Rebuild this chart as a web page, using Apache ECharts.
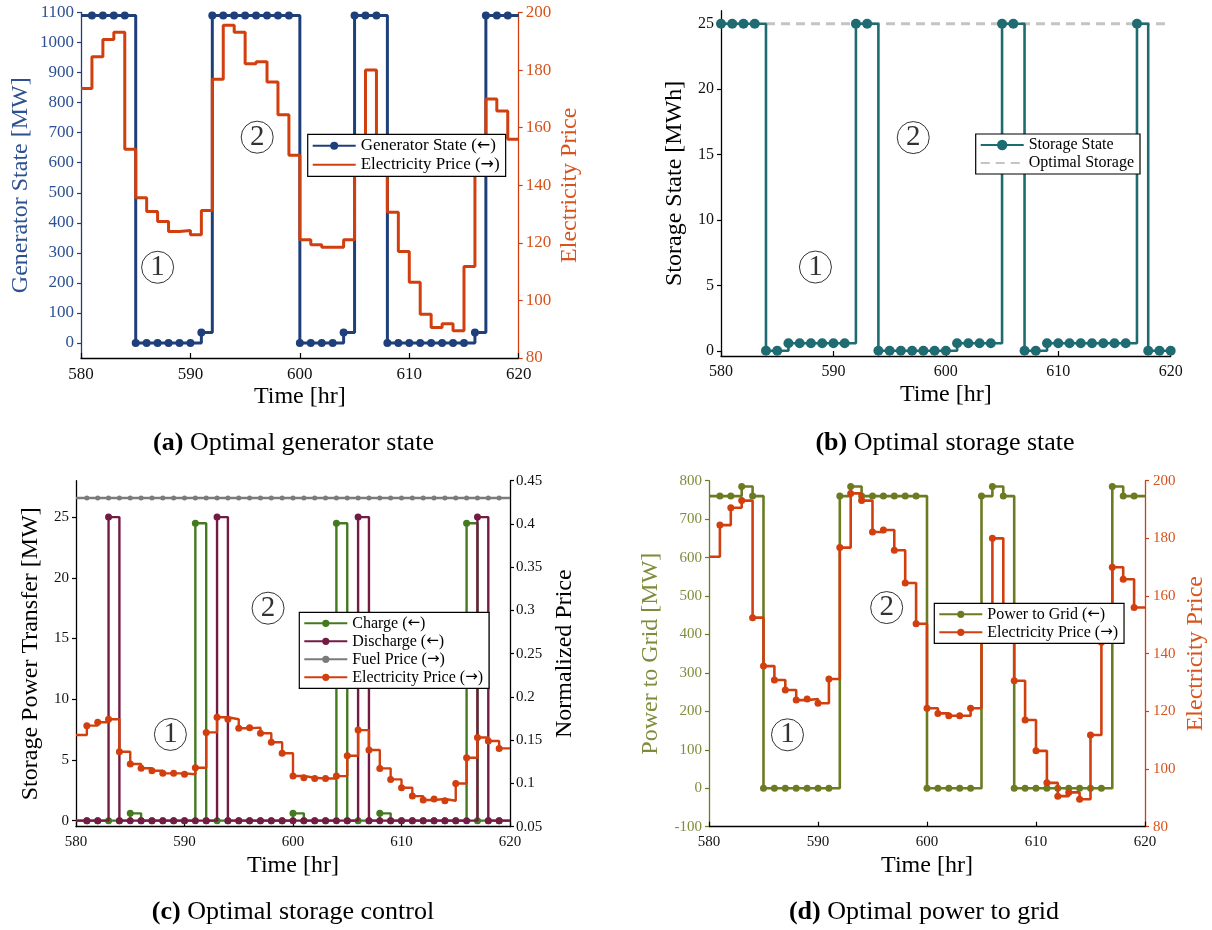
<!DOCTYPE html>
<html>
<head>
<meta charset="utf-8">
<script src="https://cdn.jsdelivr.net/npm/echarts@6/dist/echarts.min.js"></script>
<style>
  html, body { margin: 0; padding: 0; background: #fff; }
  #wrap { position: relative; width: 1212px; height: 930px; }
  .panel { position: absolute; width: 606px; height: 465px; }
</style>
</head>
<body>
<div id="wrap">
  <div id="pa" class="panel" style="left:0;top:0"></div>
  <div id="pb" class="panel" style="left:606px;top:0"></div>
  <div id="pc" class="panel" style="left:0;top:465px"></div>
  <div id="pd" class="panel" style="left:606px;top:465px"></div>
</div>
<script>
// ---- hourly data, 580 .. 620 hr ----
const hours = [580, 581, 582, 583, 584, 585, 586, 587, 588, 589,
               590, 591, 592, 593, 594, 595, 596, 597, 598, 599,
               600, 601, 602, 603, 604, 605, 606, 607, 608, 609,
               610, 611, 612, 613, 614, 615, 616, 617, 618, 619, 620];

// generator output [MW]
const generatorState = [1090, 1090, 1090, 1090, 1090, 0, 0, 0, 0, 0,
                        0, 35, 1090, 1090, 1090, 1090, 1090, 1090, 1090, 1090,
                        0, 0, 0, 0, 35, 1090, 1090, 1090, 0, 0,
                        0, 0, 0, 0, 0, 0, 35, 1090, 1090, 1090, 1090];

// electricity price
const electricityPrice = [173.6, 184.6, 190.6, 193.1, 152.5, 135.7, 130.9, 127.4, 123.9, 124.3,
                          122.8, 131.2, 176.8, 195.6, 193.1, 182.2, 182.9, 175.9, 164.5, 150.4,
                          121.1, 119.3, 118.5, 118.5, 121.1, 146.5, 180.0, 153.8, 130.6, 117.0,
                          106.3, 95.2, 90.6, 91.9, 89.5, 111.8, 144.0, 170.0, 165.8, 156.0, 156.0];

// storage state of charge [MWh]
const storageState = [25, 25, 25, 25, 0, 0, 0.57, 0.57, 0.57, 0.57,
                      0.57, 0.57, 25, 25, 0, 0, 0, 0, 0, 0,
                      0, 0.57, 0.57, 0.57, 0.57, 25, 25, 0, 0, 0.57,
                      0.57, 0.57, 0.57, 0.57, 0.57, 0.57, 0.57, 25, 0, 0, 0];
const optimalStorageHours = [580, 620];
const optimalStorageLevel = [25, 25];

// storage power transfer [MW]
const chargePower = [0, 0, 0, 0, 0, 0.6, 0, 0, 0, 0,
                     0, 24.5, 0, 0, 0, 0, 0, 0, 0, 0,
                     0.6, 0, 0, 0, 24.5, 0, 0, 0, 0.6, 0,
                     0, 0, 0, 0, 0, 0, 24.5, 0, 0, 0, 0];
const dischargePower = [0, 0, 0, 25, 0, 0, 0, 0, 0, 0,
                        0, 0, 0, 25, 0, 0, 0, 0, 0, 0,
                        0, 0, 0, 0, 0, 0, 25, 0, 0, 0,
                        0, 0, 0, 0, 0, 0, 0, 25, 0, 0, 0];

// normalized prices
const fuelPriceNorm = [0.43, 0.43, 0.43, 0.43, 0.43, 0.43, 0.43, 0.43, 0.43, 0.43,
                       0.43, 0.43, 0.43, 0.43, 0.43, 0.43, 0.43, 0.43, 0.43, 0.43,
                       0.43, 0.43, 0.43, 0.43, 0.43, 0.43, 0.43, 0.43, 0.43, 0.43,
                       0.43, 0.43, 0.43, 0.43, 0.43, 0.43, 0.43, 0.43, 0.43, 0.43, 0.43];
const electricityPriceNorm = [0.156, 0.1668, 0.1707, 0.1742, 0.1367, 0.1225, 0.1175, 0.1147, 0.1117, 0.1117,
                              0.1106, 0.1182, 0.159, 0.1765, 0.1742, 0.1638, 0.1645, 0.158, 0.1476, 0.1349,
                              0.1086, 0.1066, 0.1058, 0.1058, 0.1085, 0.132, 0.1617, 0.1386, 0.1174, 0.1047,
                              0.095, 0.0854, 0.0808, 0.082, 0.080, 0.100, 0.1297, 0.1532, 0.149, 0.1405, 0.1405];

// power delivered to grid [MW]
const powerToGrid = [760, 760, 760, 785, 760, 0, 0, 0, 0, 0,
                     0, 0, 760, 785, 760, 760, 760, 760, 760, 760,
                     0, 0, 0, 0, 0, 760, 785, 760, 0, 0,
                     0, 0, 0, 0, 0, 0, 0, 785, 760, 760, 760];

// ---- tick labels ----
const timeTicks = [580, 590, 600, 610, 620];
const generatorTicks = [0, 100, 200, 300, 400, 500, 600, 700, 800, 900, 1000, 1100];
const priceTicks = [80, 100, 120, 140, 160, 180, 200];
const storageTicks = [0, 5, 10, 15, 20, 25];
const transferTicks = [0, 5, 10, 15, 20, 25];
const normPriceTicks = [0.05, 0.1, 0.15, 0.2, 0.25, 0.3, 0.35, 0.4, 0.45];
const gridTicks = [-100, 0, 100, 200, 300, 400, 500, 600, 700, 800];

// ---- operating-region markers (hour, left-axis value, label) ----
const regionsA = [[587.0, 252, '1'], [596.1, 685, '2']];
const regionsB = [[588.4, 6.4, '1'], [597.1, 16.3, '2']];
const regionsC = [[588.7, 7.1, '1'], [597.7, 17.5, '2']];
const regionsD = [[587.2, 139, '1'], [596.3, 470, '2']];

// ---- styling ----
const SERIF = "'Liberation Serif', 'DejaVu Serif', serif";
const BLUE = '#1f3f7b', BLUE_TXT = '#2d5190';
const RED = '#d23f0e', RED_TXT = '#d9531c';
const TEAL = '#1e6b72';
const GREEN = '#447a1f', PURPLE = '#721c45', GREY = '#7b7b7b';
const OLIVE = '#6b7b22', OLIVE_TXT = '#7f8c3b';
const OPT_GREY = '#c4c4c4';

function stepData(ys, hideEnds) {
  return hours.map((h, i) => {
    const item = { value: [h, ys[i]] };
    if (hideEnds && (i === 0 || i === hours.length - 1)) item.symbol = 'none';
    return item;
  });
}

function stepLine(name, ys, color, o) {
  return {
    type: 'line', name, step: 'end',
    data: stepData(ys, o.hideEnds),
    yAxisIndex: o.yAxisIndex || 0,
    symbol: o.symbolSize ? 'circle' : 'none',
    symbolSize: o.symbolSize || 0,
    showAllSymbol: true,
    lineStyle: { color, width: o.width },
    itemStyle: { color },
    z: o.z || 2,
    animation: false
  };
}

function regionMarks(points) {
  return {
    type: 'scatter', silent: true, z: 20,
    symbol: 'circle', symbolSize: 32,
    itemStyle: { color: 'rgba(255,255,255,0)', borderColor: '#000', borderWidth: 1 },
    label: { show: true, position: 'inside', formatter: '{b}',
             fontFamily: SERIF, fontSize: 29, color: '#000' },
    data: points.map(p => ({ value: [p[0], p[1]], name: p[2] })),
    animation: false
  };
}

const plainNumber = v => String(+(+v).toFixed(2));

function timeAxis(fontSize) {
  return {
    type: 'value', min: 580, max: 620,
    name: 'Time [hr]', nameLocation: 'middle', nameGap: 27, nameMoveOverlap: false,
    nameTextStyle: { fontFamily: SERIF, fontSize: 24, color: '#000' },
    axisLine: { show: true, onZero: false, lineStyle: { color: '#000', width: 1.3 } },
    axisTick: { show: true, inside: true, length: 5, customValues: timeTicks,
                lineStyle: { color: '#000', width: 1.2 } },
    axisLabel: { fontFamily: SERIF, fontSize, color: '#111', margin: 8, customValues: timeTicks,
                 formatter: plainNumber },
    splitLine: { show: false }
  };
}

function valueAxis(o) {
  return {
    type: 'value', min: o.min, max: o.max, position: o.position || 'left',
    name: o.name, nameLocation: 'middle', nameGap: o.nameGap, nameMoveOverlap: false,
    nameTextStyle: { fontFamily: SERIF, fontSize: 24, color: o.nameColor || '#000' },
    axisLine: { show: true, onZero: false, lineStyle: { color: o.lineColor || '#000', width: 1.3 } },
    axisTick: { show: true, inside: false, length: 4, customValues: o.ticks,
                lineStyle: { color: o.lineColor || '#000', width: 1.2 } },
    axisLabel: { fontFamily: SERIF, fontSize: o.fontSize, color: o.labelColor || '#111',
                 margin: o.margin || 7, customValues: o.ticks, formatter: plainNumber },
    splitLine: { show: false }
  };
}

// legend entries carry direction arrows (← left axis, → right axis)
function legendBox(o) {
  return {
    data: o.data, orient: 'vertical', left: o.left, top: o.top,
    backgroundColor: '#fff', borderColor: '#000', borderWidth: 1.2, borderRadius: 0,
    padding: o.padding || [3, 6, 3, 4], itemGap: o.itemGap || 2,
    itemWidth: 43, itemHeight: o.itemHeight,
    formatter: name => name.replace(/([←→])/, '{ar|$1}'),
    textStyle: {
      fontFamily: SERIF, fontSize: o.fontSize, color: '#000',
      rich: { ar: { fontFamily: "'DejaVu Sans', sans-serif", fontSize: o.fontSize - 1, color: '#000' } }
    },
    selectedMode: false
  };
}

function caption(x, y, tag, text) {
  return {
    type: 'text', silent: true,
    style: {
      x, y, text: '{b|' + tag + '} ' + text,
      align: 'center', verticalAlign: 'middle',
      fontFamily: SERIF, fontSize: 26, fill: '#000',
      rich: { b: { fontFamily: SERIF, fontSize: 26, fontWeight: 'bold', fill: '#000' } }
    }
  };
}

const noMarker = { opacity: 0, color: 'rgba(0,0,0,0)', borderWidth: 0 };
const gridBase = { outerBoundsMode: 'none', containLabel: false };

// (a) generator state vs electricity price
const chartA = echarts.init(document.getElementById('pa'), null, { renderer: 'canvas' });
chartA.setOption({
  animation: false,
  grid: Object.assign({ left: 81, top: 12.5, width: 437.7, height: 345.5 }, gridBase),
  xAxis: timeAxis(17),
  yAxis: [
    valueAxis({ min: -50, max: 1100, ticks: generatorTicks, name: 'Generator State [MW]', nameGap: 48,
                nameColor: BLUE_TXT, lineColor: BLUE, labelColor: BLUE_TXT, fontSize: 17 }),
    valueAxis({ min: 80, max: 200, ticks: priceTicks, position: 'right', name: 'Electricity Price', nameGap: 39,
                nameColor: RED_TXT, lineColor: RED, labelColor: RED_TXT, fontSize: 17 })
  ],
  legend: legendBox({
    left: 307.7, top: 134.3, itemHeight: 10, fontSize: 17,
    data: ['Generator State (←)', { name: 'Electricity Price (→)', itemStyle: noMarker }]
  }),
  series: [
    stepLine('Generator State (←)', generatorState, BLUE, { symbolSize: 8, width: 3, hideEnds: true }),
    stepLine('Electricity Price (→)', electricityPrice, RED, { width: 3, yAxisIndex: 1, z: 3 }),
    regionMarks(regionsA)
  ],
  graphic: [caption(293.5, 443, '(a)', 'Optimal generator state')]
});

// (b) storage state of charge
const chartB = echarts.init(document.getElementById('pb'), null, { renderer: 'canvas' });
chartB.setOption({
  animation: false,
  grid: Object.assign({ left: 115, top: 10.7, width: 449.7, height: 345.3 }, gridBase),
  xAxis: timeAxis(16),
  yAxis: valueAxis({ min: -0.4, max: 26, ticks: storageTicks, name: 'Storage State [MWh]', nameGap: 34, fontSize: 16 }),
  legend: legendBox({
    left: 369.7, top: 134, itemHeight: 13, fontSize: 16,
    data: ['Storage State', { name: 'Optimal Storage', itemStyle: noMarker }]
  }),
  series: [
    {
      type: 'line', name: 'Optimal Storage', yAxisIndex: 0, symbol: 'none',
      data: optimalStorageHours.map((h, i) => [h, optimalStorageLevel[i]]),
      lineStyle: { color: OPT_GREY, width: 3, type: [9, 6] },
      itemStyle: { color: OPT_GREY }, z: 1, animation: false
    },
    stepLine('Storage State', storageState, TEAL, { symbolSize: 10, width: 2.6, z: 3 }),
    regionMarks(regionsB)
  ],
  graphic: [caption(339, 443, '(b)', 'Optimal storage state')]
});

// (c) storage charge / discharge with normalized prices
const chartC = echarts.init(document.getElementById('pc'), null, { renderer: 'canvas' });
chartC.setOption({
  animation: false,
  grid: Object.assign({ left: 76, top: 15.7, width: 434, height: 346 }, gridBase),
  xAxis: timeAxis(15),
  yAxis: [
    valueAxis({ min: -0.5, max: 28, ticks: transferTicks, name: 'Storage Power Transfer [MW]', nameGap: 33, fontSize: 15 }),
    valueAxis({ min: 0.05, max: 0.45, ticks: normPriceTicks, position: 'right', name: 'Normalized Price', nameGap: 43,
                fontSize: 15, margin: 6 })
  ],
  legend: legendBox({
    left: 299.3, top: 147.3, itemHeight: 9, fontSize: 16,
    data: ['Charge (←)', 'Discharge (←)', 'Fuel Price (→)', 'Electricity Price (→)']
  }),
  series: [
    stepLine('Charge (←)', chargePower, GREEN, { symbolSize: 7, width: 2.4, hideEnds: true, z: 2 }),
    stepLine('Discharge (←)', dischargePower, PURPLE, { symbolSize: 7, width: 2.4, hideEnds: true, z: 3 }),
    stepLine('Fuel Price (→)', fuelPriceNorm, GREY, { symbolSize: 5, width: 2.6, hideEnds: true, yAxisIndex: 1, z: 2 }),
    stepLine('Electricity Price (→)', electricityPriceNorm, RED, { symbolSize: 7, width: 2.4, hideEnds: true, yAxisIndex: 1, z: 4 }),
    regionMarks(regionsC)
  ],
  graphic: [caption(293, 447, '(c)', 'Optimal storage control')]
});

// (d) power delivered to grid vs electricity price
const chartD = echarts.init(document.getElementById('pd'), null, { renderer: 'canvas' });
chartD.setOption({
  animation: false,
  grid: Object.assign({ left: 103, top: 15.7, width: 436, height: 346 }, gridBase),
  xAxis: timeAxis(15),
  yAxis: [
    valueAxis({ min: -100, max: 800, ticks: gridTicks, name: 'Power to Grid [MW]', nameGap: 46,
                nameColor: OLIVE_TXT, lineColor: OLIVE, labelColor: OLIVE_TXT, fontSize: 15 }),
    valueAxis({ min: 80, max: 200, ticks: priceTicks, position: 'right', name: 'Electricity Price', nameGap: 39,
                nameColor: RED_TXT, lineColor: RED, labelColor: RED_TXT, fontSize: 15, margin: 8 })
  ],
  legend: legendBox({
    left: 328.3, top: 138.3, itemHeight: 9, fontSize: 16,
    data: ['Power to Grid (←)', 'Electricity Price (→)']
  }),
  series: [
    stepLine('Power to Grid (←)', powerToGrid, OLIVE, { symbolSize: 7, width: 2.6, hideEnds: true }),
    stepLine('Electricity Price (→)', electricityPrice, RED, { symbolSize: 7, width: 2.6, hideEnds: true, yAxisIndex: 1, z: 3 }),
    regionMarks(regionsD)
  ],
  graphic: [caption(318, 447, '(d)', 'Optimal power to grid')]
});
</script>
</body>
</html>
